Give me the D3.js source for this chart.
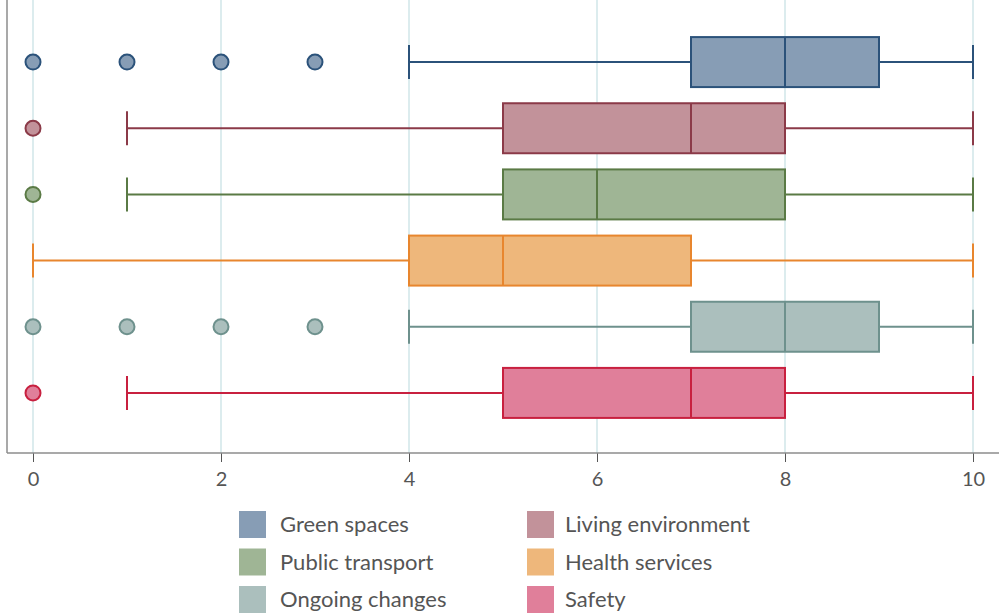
<!DOCTYPE html>
<html><head><meta charset="utf-8">
<script src="https://cdn.jsdelivr.net/npm/d3@7"></script>
<style>body{margin:0;background:#fff}svg{display:block}</style>
</head><body><svg id="c" width="999" height="616"></svg>
<script>
const categories = ["Green spaces","Living environment","Public transport","Health services","Ongoing changes","Safety"];
const q1 = [7,5,5,4,7,5];
const medians = [8,7,6,5,8,7];
const q3 = [9,8,8,7,9,8];
const whiskerLow = [4,1,1,0,4,1];
const whiskerHigh = [10,10,10,10,10,10];
const outliers = [[0,1,2,3],[0],[0],[],[0,1,2,3],[0]];
const fills = ["#879db5","#c2929a","#9fb595","#eeb77b","#abbfbd","#e07f9a"];
const strokes = ["#2b527a","#8b3a48","#5a7a45","#e8862e","#6e918d","#c8203f"];
const xTicks = [0,2,4,6,8,10];
const legendOrder = [0,1,2,3,4,5];

const svg = d3.select("#c");
const x = d3.scaleLinear().domain([0,10]).range([33,973]);
const y = d3.scaleBand().domain(categories).range([29,426]);
const axisY = 453, leftX = 7;
const boxH = 50, capH = 34;

// gridlines
svg.append("g").selectAll("line").data(xTicks).join("line")
  .attr("x1",d=>x(d)).attr("x2",d=>x(d)).attr("y1",0).attr("y2",axisY)
  .attr("stroke","#dcecee").attr("stroke-width",2);

// axes
svg.append("line").attr("x1",leftX).attr("x2",leftX).attr("y1",0).attr("y2",axisY).attr("stroke","#8c8c8c").attr("stroke-width",1.5);
const xa = svg.append("g").attr("transform",`translate(0,${axisY})`)
  .call(d3.axisBottom(x).tickValues(xTicks).tickSize(9).tickPadding(10));
xa.select(".domain").remove();
svg.append("line").attr("x1",leftX).attr("x2",999).attr("y1",axisY).attr("y2",axisY).attr("stroke","#8c8c8c").attr("stroke-width",1.5);
xa.selectAll(".tick line").attr("stroke","#555");
xa.selectAll(".tick text").attr("fill","#555").style("font-family","Lato, 'Open Sans', sans-serif").style("font-size","20px");

const g = svg.append("g").selectAll("g").data(categories).join("g")
  .attr("transform",d=>`translate(0,${y(d)+y.bandwidth()/2})`);
g.each(function(d,i){
  const s = d3.select(this);
  const st = strokes[i], sw = 2;
  s.append("line").attr("x1",x(whiskerLow[i])).attr("x2",x(q1[i])).attr("stroke",st).attr("stroke-width",sw);
  s.append("line").attr("x1",x(q3[i])).attr("x2",x(whiskerHigh[i])).attr("stroke",st).attr("stroke-width",sw);
  [whiskerLow[i],whiskerHigh[i]].forEach(v=>{
    s.append("line").attr("x1",x(v)).attr("x2",x(v)).attr("y1",-capH/2).attr("y2",capH/2).attr("stroke",st).attr("stroke-width",sw);
  });
  s.append("rect").attr("x",x(q1[i])).attr("width",x(q3[i])-x(q1[i])).attr("y",-boxH/2).attr("height",boxH)
    .attr("fill",fills[i]).attr("stroke",st).attr("stroke-width",sw);
  s.append("line").attr("x1",x(medians[i])).attr("x2",x(medians[i])).attr("y1",-boxH/2).attr("y2",boxH/2).attr("stroke",st).attr("stroke-width",sw);
  s.selectAll("circle").data(outliers[i]).join("circle")
    .attr("cx",v=>x(v)).attr("cy",0).attr("r",7.5).attr("fill",fills[i]).attr("stroke",st).attr("stroke-width",2);
});

// legend
const leg = svg.append("g");
legendOrder.forEach((ci,k)=>{
  const col = k%2, row = Math.floor(k/2);
  const lx = col===0?239:527, ly = 511+row*37.5;
  leg.append("rect").attr("x",lx).attr("y",ly).attr("width",27).attr("height",27).attr("fill",fills[ci]);
  leg.append("text").attr("x",lx+(col===0?41:38)).attr("y",ly+21).text(categories[ci])
    .attr("fill","#555").style("font-family","Lato, 'Open Sans', sans-serif").style("font-size","22px");
});
</script></body></html>
